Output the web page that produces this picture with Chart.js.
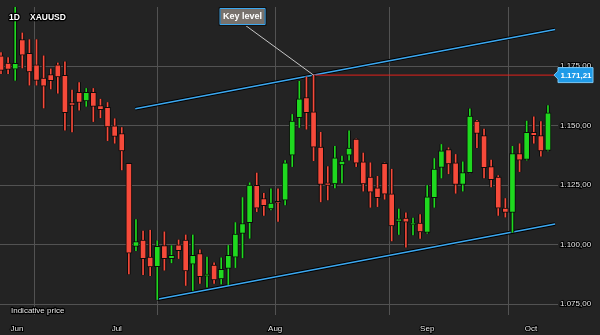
<!DOCTYPE html>
<html>
<head>
<meta charset="utf-8">
<script src="https://cdn.jsdelivr.net/npm/chart.js@4.4.0/dist/chart.umd.min.js"></script>
<style>
  html, body { margin: 0; padding: 0; background: #232323; }
  canvas { display: block; }
</style>
</head>
<body>
<canvas id="priceChart" width="600" height="335"></canvas>
<script>
// daily candles
const opens = [1.1793, 1.1763, 1.1737, 1.1861, 1.1804, 1.1755, 1.1700, 1.1714, 1.1755, 1.1711,
    1.1597, 1.1640, 1.1604, 1.1640, 1.1584, 1.1577, 1.1499, 1.1467, 1.1342, 1.0993,
    1.1020, 1.0948, 1.0908, 1.0996, 1.0942, 1.1000, 1.1019, 1.0918, 1.0963, 1.0868,
    1.0915, 1.0856, 1.0901, 1.0948, 1.1048, 1.1093, 1.1249, 1.1194, 1.1150, 1.1182,
    1.1187, 1.1376, 1.1533, 1.1618, 1.1558, 1.1410, 1.1260, 1.1255, 1.1335, 1.1376,
    1.1444, 1.1348, 1.1284, 1.1239, 1.1342, 1.1214, 1.1098, 1.1112, 1.1084, 1.1091,
    1.1052, 1.1198, 1.1325, 1.1399, 1.1344, 1.1253, 1.1303, 1.1519, 1.1458, 1.1328,
    1.1284, 1.1154, 1.1136, 1.1383, 1.1358, 1.1472, 1.1458, 1.1396];
const highs = [1.1807, 1.1786, 1.2050, 1.1889, 1.1861, 1.1861, 1.1793, 1.1738, 1.1763, 1.1768,
    1.1649, 1.1681, 1.1656, 1.1656, 1.1611, 1.1597, 1.1529, 1.1492, 1.1342, 1.1106,
    1.1057, 1.1061, 1.1017, 1.1054, 1.0996, 1.1020, 1.1041, 1.1041, 1.0979, 1.0948,
    1.0924, 1.0945, 1.0997, 1.1093, 1.1198, 1.1260, 1.1301, 1.1216, 1.1235, 1.1235,
    1.1353, 1.1547, 1.1686, 1.1704, 1.17121, 1.1472, 1.1328, 1.1413, 1.1372, 1.1478,
    1.1444, 1.1385, 1.1344, 1.1287, 1.1344, 1.1317, 1.1150, 1.1134, 1.1112, 1.1127,
    1.1249, 1.1362, 1.1421, 1.1407, 1.1379, 1.1348, 1.1571, 1.1522, 1.1485, 1.1355,
    1.1290, 1.1194, 1.1413, 1.1424, 1.1519, 1.1537, 1.1517, 1.1584];
const lows = [1.1718, 1.1718, 1.1690, 1.1742, 1.1670, 1.1670, 1.1574, 1.1654, 1.1636, 1.1481,
    1.1474, 1.1565, 1.1581, 1.1517, 1.1533, 1.1437, 1.1426, 1.1314, 1.0877, 1.0975,
    1.0874, 1.0870, 1.0770, 1.0893, 1.0924, 1.0942, 1.0829, 1.0808, 1.0838, 1.0822,
    1.0838, 1.0835, 1.0833, 1.0904, 1.0945, 1.1027, 1.1139, 1.1123, 1.1146, 1.1098,
    1.1167, 1.1328, 1.1492, 1.1485, 1.1353, 1.1180, 1.1188, 1.1239, 1.1260, 1.1355,
    1.1328, 1.1225, 1.1157, 1.1160, 1.1191, 1.1016, 1.1043, 1.0990, 1.1041, 1.1027,
    1.1048, 1.1157, 1.1280, 1.1298, 1.1216, 1.1225, 1.1301, 1.1407, 1.1280, 1.1243,
    1.1123, 1.1116, 1.1052, 1.1307, 1.1355, 1.1426, 1.1372, 1.1394];
const closes = [1.1732, 1.1736, 1.1762, 1.1796, 1.1725, 1.1690, 1.1666, 1.1689, 1.1704, 1.1554,
    1.1585, 1.1597, 1.1640, 1.1581, 1.1567, 1.1495, 1.1455, 1.1394, 1.0965, 1.1013,
    1.0941, 1.0907, 1.0993, 1.0941, 1.0956, 1.0975, 1.0890, 1.0956, 1.0866, 1.0877,
    1.0852, 1.0897, 1.0956, 1.1045, 1.1089, 1.1250, 1.1154, 1.1164, 1.1175, 1.1175,
    1.1344, 1.1519, 1.1613, 1.1554, 1.1410, 1.1253, 1.1249, 1.1365, 1.1351, 1.1406,
    1.1342, 1.1255, 1.1221, 1.1198, 1.1212, 1.1079, 1.1109, 1.1095, 1.1091, 1.1054,
    1.1201, 1.1318, 1.1394, 1.1339, 1.1253, 1.1303, 1.1540, 1.1467, 1.1324, 1.1273,
    1.1154, 1.1136, 1.1383, 1.1355, 1.1472, 1.1458, 1.1394, 1.1554];

const yTicks = [1.075, 1.100, 1.125, 1.150, 1.175];
const monthLabels = ['Jun', 'Jul', ['Aug', '2015'], 'Sep', 'Oct'];
const monthPos = [2.25, 16.3, 38.6, 60, 74.6];
const gridPos = [4.9, 28, 48.9, 71.1];

// channel lines as [candle index, price]
const upperLine = [[18.9, 1.1571], [78.0, 1.1904]];
const lowerLine = [[22.0, 1.0771], [78.0, 1.1087]];
const keyLevel = 1.17121;
const keyIndex = 44;

const GREEN = '#1fd91f';
const RED = '#f64a3a';
const BLUE = '#3ca8f0';
const EDGE = '#0c0c0c';
const GRID = '#525252';
const FONT = 'Liberation Sans, Arial, sans-serif';

document.addEventListener('DOMContentLoaded', function () {
    drawPriceChart();
});

// 1175.00 -> "1.175,00"
function formatPrice(v) {
    const parts = (v * 1000).toFixed(2).split('.');
    const whole = parts[0];
    return whole.slice(0, -3) + '.' + whole.slice(-3) + ',' + parts[1];
}

function toPoints(line) {
    return line.map(p => ({ x: p[0], y: p[1] }));
}

function candleColor(ctx) {
    const i = ctx.dataIndex;
    return closes[i] >= opens[i] ? GREEN : RED;
}

// labels, callout box and price tag on top of the chart
const overlayPlugin = {
    id: 'overlay',
    afterDraw(chart) {
        const ctx = chart.ctx;
        const xs = chart.scales.x;
        const ys = chart.scales.y;
        const area = chart.chartArea;
        ctx.save();

        ctx.lineJoin = 'round';
        ctx.textBaseline = 'middle';
        ctx.textAlign = 'left';
        ctx.strokeStyle = '#000';
        ctx.lineWidth = 2.5;
        ctx.fillStyle = '#fff';

        ctx.font = 'bold 8.5px ' + FONT;
        ctx.strokeText('1D', 9, 18);
        ctx.fillText('1D', 9, 18);
        ctx.strokeText('XAUUSD', 30, 18);
        ctx.fillText('XAUUSD', 30, 18);

        ctx.font = '8px ' + FONT;
        ctx.fillStyle = '#e8e8e8';
        ctx.strokeText('Indicative price', 11, area.bottom - 4);
        ctx.fillText('Indicative price', 11, area.bottom - 4);

        // key level callout
        const kx = xs.getPixelForValue(keyIndex);
        const ky = ys.getPixelForValue(keyLevel);
        const bx = kx - 93, by = 9, bw = 44, bh = 15;
        ctx.strokeStyle = '#c8c8c8';
        ctx.lineWidth = 1;
        ctx.beginPath();
        ctx.moveTo(bx + 23, by + bh);
        ctx.lineTo(kx, ky);
        ctx.stroke();

        ctx.fillStyle = '#77726d';
        ctx.fillRect(bx, by, bw, bh);
        ctx.strokeStyle = '#111';
        ctx.strokeRect(bx - 1.5, by - 1.5, bw + 3, bh + 3);
        ctx.strokeStyle = BLUE;
        ctx.strokeRect(bx - 0.5, by - 0.5, bw + 1, bh + 1);
        ctx.font = 'bold 9px ' + FONT;
        ctx.fillStyle = '#fff';
        ctx.textAlign = 'center';
        ctx.fillText('Key level', bx + bw / 2, by + bh / 2 + 0.5);

        // price tag on the axis
        const tx = area.right + 1, tw = 36, th = 15;
        ctx.fillStyle = '#1f9be8';
        ctx.beginPath();
        ctx.moveTo(tx - 3, ky);
        ctx.lineTo(tx + 1, ky - 4);
        ctx.lineTo(tx + 1, ky - th / 2);
        ctx.lineTo(tx + tw, ky - th / 2);
        ctx.lineTo(tx + tw, ky + th / 2);
        ctx.lineTo(tx + 1, ky + th / 2);
        ctx.lineTo(tx + 1, ky + 4);
        ctx.closePath();
        ctx.fill();
        ctx.strokeStyle = '#7cc8f5';
        ctx.stroke();
        ctx.font = 'bold 8px ' + FONT;
        ctx.fillStyle = '#fff';
        ctx.fillText(formatPrice(keyLevel), tx + 1 + tw / 2, ky + 0.5);

        ctx.restore();
    }
};

function drawPriceChart() {
    const ctx = document.getElementById('priceChart').getContext('2d');
    const tickFont = { family: FONT, size: 8, lineHeight: 1.25 };

    new Chart(ctx, {
        type: 'bar',
        data: {
            datasets: [{
                type: 'line',
                data: toPoints(upperLine),
                borderColor: '#000',
                borderWidth: 3.5,
                pointRadius: 0,
                order: 6
            }, {
                type: 'line',
                data: toPoints(lowerLine),
                borderColor: '#000',
                borderWidth: 3.5,
                pointRadius: 0,
                order: 6
            }, {
                type: 'line',
                data: toPoints(upperLine),
                borderColor: BLUE,
                borderWidth: 1.5,
                pointRadius: 0,
                order: 5
            }, {
                type: 'line',
                data: toPoints(lowerLine),
                borderColor: BLUE,
                borderWidth: 1.5,
                pointRadius: 0,
                order: 5
            }, {
                type: 'line',
                data: [{ x: keyIndex, y: keyLevel }, { x: 80, y: keyLevel }],
                borderColor: '#e3201b',
                borderWidth: 1,
                pointRadius: 0,
                order: 4
            }, {
                // dark halo behind the wicks
                data: opens.map((o, i) => ({ x: i, y: [lows[i], highs[i]] })),
                backgroundColor: EDGE,
                barThickness: 3,
                grouped: false,
                order: 3
            }, {
                // wicks
                data: opens.map((o, i) => ({ x: i, y: [lows[i], highs[i]] })),
                backgroundColor: candleColor,
                barThickness: 1,
                grouped: false,
                order: 2
            }, {
                // bodies
                data: opens.map((o, i) => ({ x: i, y: [o, closes[i]] })),
                backgroundColor: candleColor,
                borderColor: EDGE,
                borderWidth: 1,
                borderSkipped: false,
                barThickness: 6,
                grouped: false,
                order: 1
            }]
        },
        options: {
            responsive: false,
            animation: false,
            layout: { padding: 0 },
            plugins: {
                legend: { display: false },
                tooltip: { enabled: false }
            },
            scales: {
                x: {
                    type: 'linear',
                    position: 'bottom',
                    min: -0.14,
                    max: 78.13,
                    offset: false,
                    afterBuildTicks: s => { s.ticks = monthPos.map(v => ({ value: v })); },
                    afterFit: s => { s.height = 20; },
                    grid: { display: false },
                    border: { display: false },
                    ticks: {
                        autoSkip: false,
                        maxRotation: 0,
                        padding: 1,
                        color: '#e8e8e8',
                        font: tickFont,
                        textStrokeColor: '#000',
                        textStrokeWidth: 2,
                        callback: (v, i) => monthLabels[i]
                    }
                },
                xGrid: {
                    type: 'linear',
                    position: 'top',
                    min: -0.14,
                    max: 78.13,
                    afterBuildTicks: s => { s.ticks = gridPos.map(v => ({ value: v })); },
                    afterFit: s => { s.height = 0; },
                    grid: { color: GRID, drawTicks: false },
                    border: { display: false },
                    ticks: { display: false }
                },
                y: {
                    position: 'right',
                    min: 1.0705,
                    max: 1.1998,
                    afterBuildTicks: s => { s.ticks = yTicks.map(v => ({ value: v })); },
                    afterFit: s => { s.width = 44; },
                    grid: { color: GRID, tickLength: 2 },
                    border: { display: false },
                    ticks: {
                        padding: 2,
                        color: '#e8e8e8',
                        font: tickFont,
                        textStrokeColor: '#000',
                        textStrokeWidth: 2,
                        callback: v => formatPrice(v)
                    }
                }
            }
        },
        plugins: [overlayPlugin]
    });
}
</script>
</body>
</html>
